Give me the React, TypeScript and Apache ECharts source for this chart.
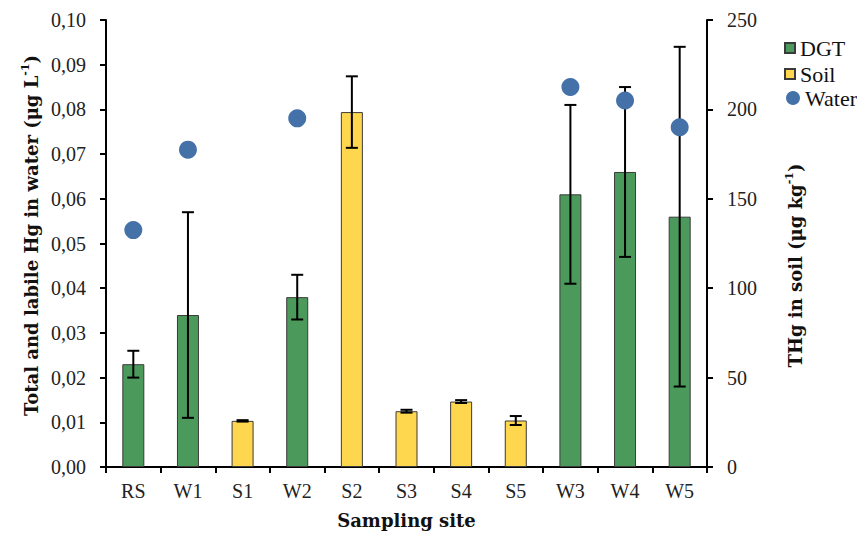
import React, { useEffect, useRef } from "react";
import * as echarts from "echarts";

const categories = ["RS", "W1", "S1", "W2", "S2", "S3", "S4", "S5", "W3", "W4", "W5"];
const dgt = [0.023, 0.034, null, 0.038, null, null, null, null, 0.061, 0.066, 0.056];
const dgtLow = [0.020, 0.011, null, 0.033, null, null, null, null, 0.041, 0.047, 0.018];
const dgtHigh = [0.026, 0.057, null, 0.043, null, null, null, null, 0.081, 0.085, 0.094];
const soil = [null, null, 25.8, null, 198.5, 31.2, 36.6, 26.0, null, null, null];
const soilErr = [null, null, 0.4, null, 20.0, 0.8, 0.8, 2.5, null, null, null];
const water = [0.053, 0.071, null, 0.078, null, null, null, null, 0.085, 0.082, 0.076];
const leftTicks = { min: 0, max: 0.1, interval: 0.01 };
const rightTicks = { min: 0, max: 250, interval: 50 };

const FONT = "Liberation Serif";
const TITLE_FONT = "DejaVu Serif";
const GREEN = "#4b9a5b";
const YELLOW = "#ffd74f";
const BLUE = "#4571a9";

function errorRender(params: any, api: any) {
  const x = api.value(0);
  const lo = api.coord([x, api.value(1)]);
  const hi = api.coord([x, api.value(2)]);
  const hw = 6;
  const st = { stroke: "#000", lineWidth: 2 };
  return {
    type: "group",
    children: [
      { type: "line", shape: { x1: lo[0], y1: lo[1], x2: hi[0], y2: hi[1] }, style: st },
      { type: "line", shape: { x1: lo[0] - hw, y1: lo[1], x2: lo[0] + hw, y2: lo[1] }, style: st },
      { type: "line", shape: { x1: hi[0] - hw, y1: hi[1], x2: hi[0] + hw, y2: hi[1] }, style: st },
    ],
  };
}

export default function App() {
  const ref = useRef<HTMLDivElement>(null);
  useEffect(() => {
    if (!ref.current) return;
    const chart = echarts.init(ref.current, null, { renderer: "svg" });
    const dgtErrData: any[] = [];
    const soilErrData: any[] = [];
    categories.forEach((_, i) => {
      if (dgtLow[i] != null) dgtErrData.push([i, dgtLow[i], dgtHigh[i]]);
      if (soilErr[i] != null) soilErrData.push([i, (soil[i] as number) - (soilErr[i] as number), (soil[i] as number) + (soilErr[i] as number)]);
    });
    const axisLine = { show: true, lineStyle: { color: "#000", width: 2 } };
    const axisTick = { show: true, length: 6, lineStyle: { color: "#000", width: 2 } };
    const labelStyle = { color: "#222", fontSize: 20, fontFamily: FONT };
    const rich = {
      t: { fontSize: 18, fontWeight: "bold", fontFamily: TITLE_FONT, color: "#111", lineHeight: 22 },
      s: { fontSize: 11, fontWeight: "bold", fontFamily: TITLE_FONT, color: "#111", verticalAlign: "top", lineHeight: 22, padding: [0, 0, 8, 0] },
    };
    chart.setOption({
      animation: false,
      backgroundColor: "#fff",
      grid: { left: 106, right: 150, top: 20, bottom: 67, containLabel: false, outerBoundsMode: "none" },
      legend: [
        {
          data: [
            { name: "DGT", icon: "rect" },
            { name: "Soil", icon: "rect" },
          ],
          orient: "vertical",
          left: 779,
          top: 32,
          itemWidth: 10,
          itemHeight: 10,
          itemGap: 4,
          textStyle: { color: "#111", fontSize: 22, fontFamily: FONT },
        },
        {
          data: [{ name: "Water", icon: "circle" }],
          orient: "vertical",
          left: 781,
          top: 82,
          itemWidth: 14,
          itemHeight: 14,
          textStyle: { color: "#111", fontSize: 22, fontFamily: FONT },
        },
      ],
      xAxis: {
        type: "category",
        data: categories,
        axisLine,
        axisTick: { ...axisTick, alignWithLabel: false },
        axisLabel: { ...labelStyle, margin: 14 },
        name: "Sampling site",
        nameLocation: "middle",
        nameGap: 44,
        nameTextStyle: { color: "#111", fontSize: 18, fontWeight: "bold", fontFamily: TITLE_FONT },
      },
      yAxis: [
        {
          type: "value",
          ...leftTicks,
          position: "left",
          axisLine,
          axisTick,
          splitLine: { show: false },
          axisLabel: { ...labelStyle, margin: 20, formatter: (v: number) => v.toFixed(2).replace(".", ",") },
          name: "{t|Total and labile Hg in water (μg L}{s|-1}{t|)}",
          nameLocation: "middle",
          nameGap: 64,
          nameTextStyle: { padding: [0, 0, 0, 16], rich },
        },
        {
          type: "value",
          ...rightTicks,
          position: "right",
          axisLine,
          axisTick,
          splitLine: { show: false },
          axisLabel: { ...labelStyle, margin: 20 },
          name: "{t|THg in soil (μg kg}{s|-1}{t|)}",
          nameLocation: "middle",
          nameGap: 77,
          nameTextStyle: { padding: [0, 44, 0, 0], rich },
        },
      ],
      series: [
        {
          name: "DGT",
          type: "bar",
          yAxisIndex: 0,
          data: dgt,
          barWidth: 22,
          barGap: "-100%",
          itemStyle: { color: GREEN, borderColor: "#3a3a3a", borderWidth: 1 },
          z: 2,
        },
        {
          name: "Soil",
          type: "bar",
          yAxisIndex: 1,
          data: soil,
          barWidth: 22,
          barGap: "-100%",
          itemStyle: { color: YELLOW, borderColor: "#3a3a3a", borderWidth: 1 },
          z: 2,
        },
        {
          name: "DGT err",
          type: "custom",
          yAxisIndex: 0,
          data: dgtErrData,
          encode: { x: 0, y: [1, 2] },
          renderItem: errorRender,
          z: 3,
        },
        {
          name: "Soil err",
          type: "custom",
          yAxisIndex: 1,
          data: soilErrData,
          encode: { x: 0, y: [1, 2] },
          renderItem: errorRender,
          z: 3,
        },
        {
          name: "Water",
          type: "scatter",
          yAxisIndex: 0,
          data: water,
          symbol: "circle",
          symbolSize: 18,
          itemStyle: { color: BLUE, opacity: 1 },
          z: 4,
        },
      ],
    });
    return () => chart.dispose();
  }, []);
  return <div ref={ref} style={{ width: 857, height: 534, position: "absolute", left: 0, top: 0 }} />;
}
